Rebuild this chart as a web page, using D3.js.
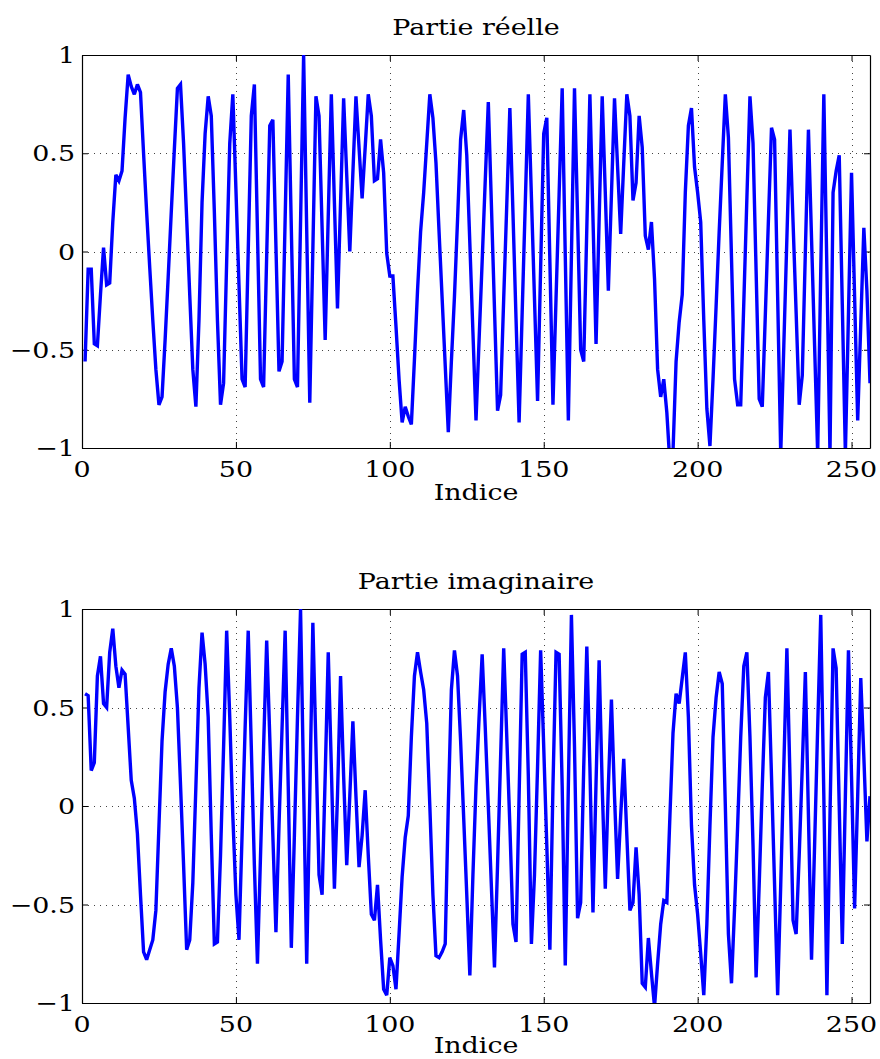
<!DOCTYPE html>
<html><head><meta charset="utf-8">
<script src="https://cdn.jsdelivr.net/npm/d3@7"></script>
<style>body{margin:0;background:#fff}</style>
</head><body><svg id="c" width="880" height="1059"></svg>
<script>
// ---- data ----
const indices = d3.range(1, 257);
const realPart = [
-0.56,-0.09,-0.09,-0.47,-0.48,-0.22,0.02,-0.17,-0.16,0.15,
0.39,0.36,0.41,0.68,0.90,0.84,0.80,0.85,0.81,0.50,
0.20,-0.08,-0.35,-0.60,-0.78,-0.74,-0.45,-0.13,0.20,0.52,
0.83,0.85,0.55,0.17,-0.22,-0.60,-0.79,-0.35,0.25,0.60,
0.79,0.69,0.20,-0.35,-0.78,-0.67,-0.05,0.55,0.80,0.32,
-0.17,-0.65,-0.69,0.00,0.69,0.85,0.10,-0.65,-0.69,-0.02,
0.64,0.67,0.03,-0.61,-0.56,0.17,0.90,0.12,-0.65,-0.69,
0.15,1.00,0.11,-0.77,0.01,0.79,0.69,0.12,-0.45,0.18,
0.80,0.25,-0.29,0.25,0.78,0.39,0.00,0.40,0.79,0.53,
0.27,0.53,0.80,0.69,0.36,0.37,0.57,0.40,-0.01,-0.125,
-0.125,-0.38,-0.65,-0.87,-0.79,-0.84,-0.88,-0.55,-0.20,0.10,
0.30,0.55,0.80,0.68,0.45,0.10,-0.24,-0.58,-0.92,-0.56,
-0.23,0.16,0.57,0.72,0.49,0.04,-0.41,-0.86,-0.45,-0.05,
0.36,0.76,0.24,-0.29,-0.81,-0.73,-0.24,0.24,0.73,0.20,
-0.34,-0.87,-0.31,0.24,0.80,0.28,-0.24,-0.76,-0.08,0.60,
0.68,-0.05,-0.78,-0.24,0.29,0.83,-0.02,-0.86,-0.02,0.83,
0.17,-0.50,-0.56,0.12,0.80,0.17,-0.47,0.16,0.79,0.30,
-0.20,0.29,0.78,0.43,0.09,0.45,0.80,0.69,0.26,0.35,
0.69,0.53,0.08,0.01,0.15,-0.14,-0.60,-0.74,-0.65,-0.82,
-1.08,-1.02,-0.56,-0.36,-0.22,0.30,0.64,0.73,0.43,0.30,
0.15,-0.35,-0.80,-0.99,-0.65,-0.28,0.10,0.45,0.80,0.58,
-0.03,-0.65,-0.78,-0.78,-0.26,0.27,0.79,0.55,-0.10,-0.75,
-0.79,-0.32,0.16,0.63,0.57,-0.23,-1.03,-0.48,0.07,0.62,
0.15,-0.31,-0.78,-0.63,0.00,0.62,0.07,-0.48,-1.03,-0.10,
0.80,-0.10,-1.03,0.30,0.41,0.49,-0.27,-1.03,-0.32,0.40,
-0.23,-0.86,-0.37,0.12,-0.20,-0.67
];
const imagPart = [
0.57,0.56,0.18,0.22,0.66,0.76,0.52,0.50,0.78,0.90,
0.71,0.60,0.69,0.67,0.40,0.13,0.04,-0.14,-0.45,-0.74,
-0.78,-0.73,-0.68,-0.53,-0.10,0.33,0.58,0.72,0.80,0.71,
0.50,0.11,-0.30,-0.73,-0.68,-0.39,0.10,0.60,0.88,0.72,
0.45,-0.15,-0.70,-0.69,-0.25,0.30,0.89,0.45,-0.05,-0.45,
-0.68,-0.15,0.40,0.89,0.30,-0.30,-0.80,-0.25,0.30,0.84,
0.35,-0.15,-0.64,-0.10,0.40,0.89,0.10,-0.72,-0.15,0.45,
1.00,0.10,-0.80,0.05,0.93,0.30,-0.35,-0.45,0.15,0.78,
0.20,-0.42,0.05,0.66,0.15,-0.30,0.05,0.43,0.05,-0.31,
-0.15,0.08,-0.25,-0.55,-0.58,-0.40,-0.68,-0.93,-0.96,-0.77,
-0.81,-0.93,-0.65,-0.36,-0.16,-0.05,0.35,0.66,0.78,0.68,
0.59,0.42,0.00,-0.45,-0.76,-0.77,-0.74,-0.70,0.00,0.59,
0.79,0.66,0.33,-0.06,-0.45,-0.86,-0.35,0.10,0.45,0.77,
0.40,0.00,-0.41,-0.82,-0.30,0.25,0.80,0.35,-0.10,-0.60,
-0.69,0.05,0.77,0.78,0.15,-0.70,-0.35,0.20,0.79,0.30,
-0.20,-0.73,0.10,0.78,0.77,0.10,-0.81,0.10,0.97,0.30,
-0.57,-0.49,0.20,0.81,0.20,-0.54,0.12,0.74,0.10,-0.42,
0.10,0.54,0.05,-0.37,-0.05,0.24,-0.15,-0.53,-0.49,-0.21,
-0.45,-0.90,-0.92,-0.67,-0.85,-1.02,-0.80,-0.60,-0.48,-0.49,
-0.05,0.37,0.57,0.52,0.65,0.78,0.45,-0.10,-0.40,-0.55,
-0.75,-0.96,-0.60,-0.10,0.35,0.55,0.68,0.62,0.00,-0.65,
-0.90,-0.52,-0.10,0.35,0.71,0.78,0.35,-0.20,-0.87,-0.40,
0.10,0.55,0.68,0.15,-0.40,-0.96,-0.40,0.20,0.80,0.15,
-0.58,-0.65,-0.25,0.20,0.68,-0.05,-0.78,-0.20,0.40,0.97,
0.05,-0.96,-0.05,0.80,0.70,0.00,-0.70,0.05,0.79,0.15,
-0.52,0.05,0.65,0.25,-0.18,0.05
];
const xTicks = [0, 50, 100, 150, 200, 250];
const yTicks = [-1, -0.5, 0, 0.5, 1];
const panelTitles = ["Partie réelle", "Partie imaginaire"];
const xLabel = "Indice";

// ---- drawing ----
const svg = d3.select("#c");
const font = "'DejaVu Serif','Liberation Serif',serif";
const fs = 23, sx = 1.17;
const panels = [
  {title: panelTitles[0], values: realPart, top: 55, bottom: 448, titleY: 35, labelY: 500},
  {title: panelTitles[1], values: imagPart, top: 609, bottom: 1003, titleY: 589, labelY: 1053}
];
const left = 82, right = 870;
const x = d3.scaleLinear().domain([0, 256]).range([left, right]);
const fmt = d => String(d).replace("-", "\u2212");

function stretchedText(parent, tx, ty, str, anchor) {
  return parent.append("text")
    .attr("transform", `translate(${tx},${ty}) scale(${sx},1)`)
    .attr("text-anchor", anchor).attr("font-family", font).attr("font-size", fs)
    .attr("fill", "#000").text(str);
}

panels.forEach((p, k) => {
  const y = d3.scaleLinear().domain([-1, 1]).range([p.bottom, p.top]);
  const g = svg.append("g");
  const clipId = "clip" + k;
  svg.append("clipPath").attr("id", clipId).append("rect")
    .attr("x", left).attr("y", p.top).attr("width", right - left).attr("height", p.bottom - p.top);

  // grid
  const grid = g.append("g").attr("stroke", "#444").attr("stroke-width", 1)
    .attr("stroke-dasharray", "1,5");
  grid.selectAll(".gx").data(xTicks.filter(t => t > 0)).join("line")
    .attr("x1", d => Math.round(x(d)) + 0.5).attr("x2", d => Math.round(x(d)) + 0.5)
    .attr("y1", p.top).attr("y2", p.bottom);
  grid.selectAll(".gy").data(yTicks.filter(t => t > -1 && t < 1)).join("line")
    .attr("y1", d => Math.round(y(d)) + 0.5).attr("y2", d => Math.round(y(d)) + 0.5)
    .attr("x1", left).attr("x2", right);

  // axes (ticks inward, box)
  const axB = d3.axisBottom(x).tickValues(xTicks).tickSizeInner(-6).tickSizeOuter(0).tickFormat("");
  const axT = d3.axisTop(x).tickValues(xTicks).tickSizeInner(-6).tickSizeOuter(0).tickFormat("");
  const axL = d3.axisLeft(y).tickValues(yTicks).tickSizeInner(-6).tickSizeOuter(0).tickFormat("");
  const axR = d3.axisRight(y).tickValues(yTicks).tickSizeInner(-6).tickSizeOuter(0).tickFormat("");
  const gb = g.append("g").attr("transform", `translate(0,${p.bottom})`).call(axB);
  const gt = g.append("g").attr("transform", `translate(0,${p.top})`).call(axT);
  const gl = g.append("g").attr("transform", `translate(${left},0)`).call(axL);
  const gr = g.append("g").attr("transform", `translate(${right},0)`).call(axR);
  [gb, gt, gl, gr].forEach(a => {
    a.selectAll("path").attr("stroke", "#000").attr("stroke-width", 1.2);
    a.selectAll("line").attr("stroke", "#000").attr("stroke-width", 1);
  });

  // tick labels
  const lab = g.append("g");
  xTicks.forEach(t => stretchedText(lab, x(t), p.bottom + 29, fmt(t), "middle"));
  yTicks.forEach(t => stretchedText(lab, left - 7, y(t) + 8, fmt(t), "end"));

  // line
  const line = d3.line().x((d, i) => x(indices[i])).y(d => y(d));
  g.append("path").datum(p.values).attr("d", line)
    .attr("clip-path", `url(#${clipId})`)
    .attr("fill", "none").attr("stroke", "#0000ff").attr("stroke-width", 3.4)
    .attr("stroke-linejoin", "miter").attr("stroke-miterlimit", 3);

  // titles
  stretchedText(svg, (left + right) / 2, p.titleY, p.title, "middle");
  stretchedText(svg, (left + right) / 2, p.labelY, xLabel, "middle");
});
</script>
</body></html>
